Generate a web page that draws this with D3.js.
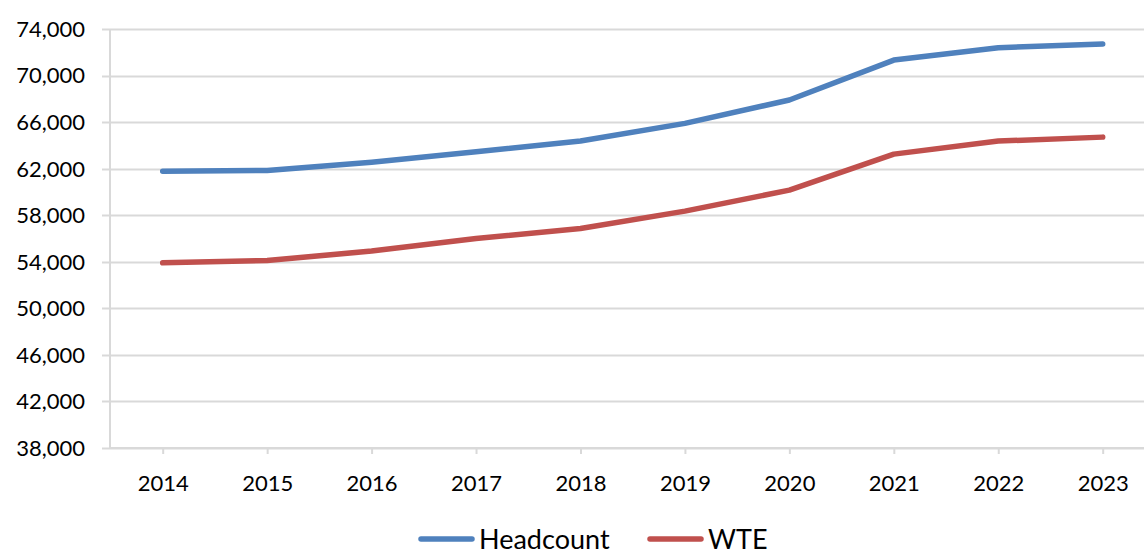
<!DOCTYPE html>
<html>
<head>
<meta charset="utf-8">
<script src="https://cdn.jsdelivr.net/npm/d3@7/dist/d3.min.js"></script>
<style>
  html, body { margin: 0; padding: 0; background: #fff; }
  svg { display: block; font-family: Lato, "Open Sans", sans-serif; }
</style>
</head>
<body>
<svg id="chart" width="1144" height="554"></svg>
<script>
// Staff numbers by year
const years = ["2014", "2015", "2016", "2017", "2018", "2019", "2020", "2021", "2022", "2023"];
const headcount = [61770, 61850, 62560, 63450, 64370, 65890, 67900, 71330, 72390, 72710];
const wte = [53910, 54110, 54920, 56000, 56860, 58350, 60160, 63250, 64370, 64710];
const yTicks = [38000, 42000, 46000, 50000, 54000, 58000, 62000, 66000, 70000, 74000];
const seriesNames = ["Headcount", "WTE"];
const seriesColors = ["#4F81BD", "#C0504D"];

const svg = d3.select("#chart");
const plot = { left: 110, right: 1144, top: 29, bottom: 448 };

const x = d3.scalePoint()
  .domain(years)
  .range([162.7, 1102.7]);

const y = d3.scaleLinear()
  .domain([38000, 74000])
  .range([plot.bottom, plot.top]);

const fmt = d3.format(",");

// Horizontal gridlines (extend left past the axis as tick marks)
svg.append("g")
  .selectAll("line")
  .data(yTicks)
  .join("line")
  .attr("x1", plot.left - 8)
  .attr("x2", plot.right)
  .attr("y1", d => Math.round(y(d)) + 0.5)
  .attr("y2", d => Math.round(y(d)) + 0.5)
  .attr("stroke", "#d9d9d9")
  .attr("stroke-width", 2);

// Vertical axis line
svg.append("line")
  .attr("x1", plot.left).attr("x2", plot.left)
  .attr("y1", plot.top).attr("y2", plot.bottom)
  .attr("stroke", "#d9d9d9")
  .attr("stroke-width", 2);

// Y tick labels
svg.append("g")
  .selectAll("text")
  .data(yTicks)
  .join("text")
  .attr("x", 85)
  .attr("y", d => y(d))
  .attr("dy", "0.36em")
  .attr("text-anchor", "end")
  .attr("font-size", 22)
  .attr("fill", "#000")
  .text(d => fmt(d));

// X axis with tick marks at each category
const xAxis = d3.axisBottom(x).tickSize(6).tickPadding(21).tickSizeOuter(0);
const gx = svg.append("g")
  .attr("transform", `translate(0,${plot.bottom})`)
  .call(xAxis);
gx.select(".domain").remove();
gx.selectAll(".tick line").attr("stroke", "#d9d9d9").attr("stroke-width", 2);
gx.selectAll(".tick text").attr("font-size", 22).attr("fill", "#000").attr("font-family", "Lato, 'Open Sans', sans-serif");
svg.append("line")
  .attr("x1", plot.left).attr("x2", plot.right)
  .attr("y1", plot.bottom).attr("y2", plot.bottom)
  .attr("stroke", "#d9d9d9")
  .attr("stroke-width", 2);

// Series lines
const line = d3.line()
  .x((d, i) => x(years[i]))
  .y(d => y(d));

[headcount, wte].forEach((vals, k) => {
  svg.append("path")
    .datum(vals)
    .attr("d", line)
    .attr("fill", "none")
    .attr("stroke", seriesColors[k])
    .attr("stroke-width", 5.5)
    .attr("stroke-linecap", "round")
    .attr("stroke-linejoin", "round");
});

// Legend
const legendItems = [
  { name: seriesNames[0], color: seriesColors[0], x0: 419 },
  { name: seriesNames[1], color: seriesColors[1], x0: 648 }
];
const ly = 539;
const lg = svg.append("g");
legendItems.forEach(it => {
  lg.append("line")
    .attr("x1", it.x0 + 2).attr("x2", it.x0 + 53)
    .attr("y1", ly).attr("y2", ly)
    .attr("stroke", it.color)
    .attr("stroke-width", 5.5)
    .attr("stroke-linecap", "round");
  lg.append("text")
    .attr("x", it.x0 + 60)
    .attr("y", ly)
    .attr("dy", "0.36em")
    .attr("font-size", 27)
    .attr("fill", "#000")
    .text(it.name);
});
</script>
</body>
</html>
